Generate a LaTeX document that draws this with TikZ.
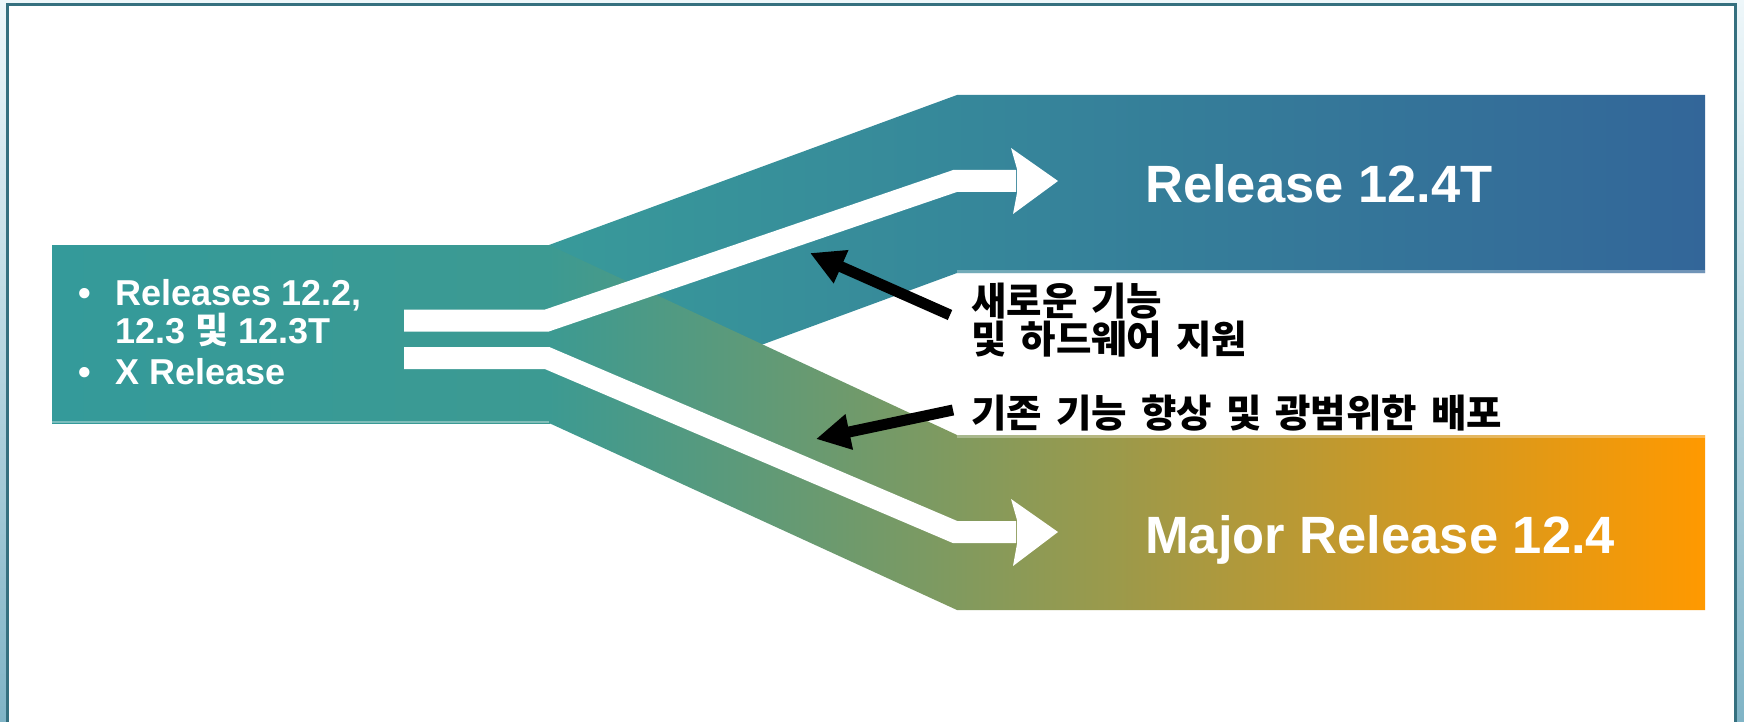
\documentclass[tikz,border=0pt]{standalone}
\usepackage{fontspec}
\setmainfont{Liberation Sans}
\newfontfamily\cjk{Noto Sans CJK KR}[WordSpace=1.6]
\usetikzlibrary{arrows.meta}
\definecolor{frameC}{HTML}{35707F}
\definecolor{bgTop}{HTML}{EEF7FA}
\definecolor{bgBot}{HTML}{80B4C6}
\definecolor{tealA}{HTML}{349A9A}
\definecolor{tealB}{HTML}{3C9A92}
\definecolor{upL}{HTML}{389A9A}
\definecolor{blueEnd}{HTML}{336699}
\definecolor{loL}{HTML}{3C9A92}
\definecolor{orangeEnd}{HTML}{FF9900}
\tikzset{
  whitetxt/.style={white, inner sep=0pt, font=\bfseries\fontsize{36}{40}\selectfont},
  bigtxt/.style={white, inner sep=0pt, anchor=base west, font=\bfseries\fontsize{52.5}{60}\selectfont},
  kortxt/.style={black, inner sep=0pt, anchor=west, font=\cjk\bfseries\fontsize{38.5}{42}\selectfont},
  whiteshaft/.style={white, line width=22pt, line join=miter},
  pointer/.style={black, line width=11pt, -{Triangle[length=34pt,width=34pt]}}
}
\begin{document}
\begin{tikzpicture}[x=1pt,y=-1pt]
\useasboundingbox (0,0) rectangle (1744,722);
% background and frame
\shade[top color=bgTop, bottom color=bgBot] (0,0) rectangle (1744,722);
\fill[white] (7,5) rectangle (1735,722);
\draw[frameC, line width=3pt] (7,726) -- (7,5) -- (1735,5) -- (1735,726);
% upper branch and box
\shade[left color=upL, right color=blueEnd] (549,245) -- (957,95) -- (1705,95) -- (1705,273) -- (957,273) -- (549,423) -- cycle;
% lower branch and box
\shade[left color=loL, right color=orangeEnd] (549,245) -- (957,435) -- (1705,435) -- (1705,610) -- (957,610) -- (549,423) -- cycle;
% left box
\shade[left color=tealA, right color=tealB] (52,245) rectangle (550,423);
% soft highlight edges
\draw[white, opacity=0.35, line width=2pt] (52,422) -- (549,422);
\draw[white, opacity=0.3, line width=3pt] (957,271.5) -- (1705,271.5);
\draw[white, opacity=0.3, line width=3pt] (957,436.5) -- (1705,436.5);
% white arrows
\coordinate (u0) at (404,320.5);
\coordinate (u1) at (547,320.5);
\coordinate (u2) at (955,181);
\coordinate (u3) at (1016,181);
\draw[whiteshaft] (u0) -- (u1) -- (u2) -- (u3);
\fill[white] (1017,169) -- (1011,148) -- (1058,181) -- (1013,214) -- (1017,193) -- cycle;
\coordinate (d0) at (404,358);
\coordinate (d1) at (547,358);
\coordinate (d2) at (955,532);
\coordinate (d3) at (1016,532);
\draw[whiteshaft] (d0) -- (d1) -- (d2) -- (d3);
\fill[white] (1017,520) -- (1011,499) -- (1058,532) -- (1013,566) -- (1017,544) -- cycle;
% left list
\node[whitetxt, anchor=base] (b1) at (85,305) {•};
\node[whitetxt, anchor=base west] (l1) at (115,305) {Releases 12.2,};
\node[whitetxt, anchor=base west] (l2) at (115,343) {12.3 {\cjk\bfseries 및} 12.3T};
\node[whitetxt, anchor=base] (b2) at (85,384) {•};
\node[whitetxt, anchor=base west] (l3) at (115,384) {X Release};
% release labels
\node[bigtxt] (r1) at (1145,202) {Release 12.4T};
\node[bigtxt] (r2) at (1145,553) {Major Release 12.4};
% korean labels
\node[kortxt] (k1) at (971,301) {새로운 기능};
\node[kortxt] (k2) at (971,339) {및 하드웨어 지원};
\node[kortxt] (k3) at (971,413) {기존 기능 향상 및 광범위한 배포};
% black pointers
\coordinate (t1) at (950,315);
\coordinate (h1) at (810,253);
\draw[pointer] (t1) -- (h1);
\coordinate (t2) at (953,410);
\coordinate (h2) at (816,439);
\draw[pointer] (t2) -- (h2);
\end{tikzpicture}
\end{document}
